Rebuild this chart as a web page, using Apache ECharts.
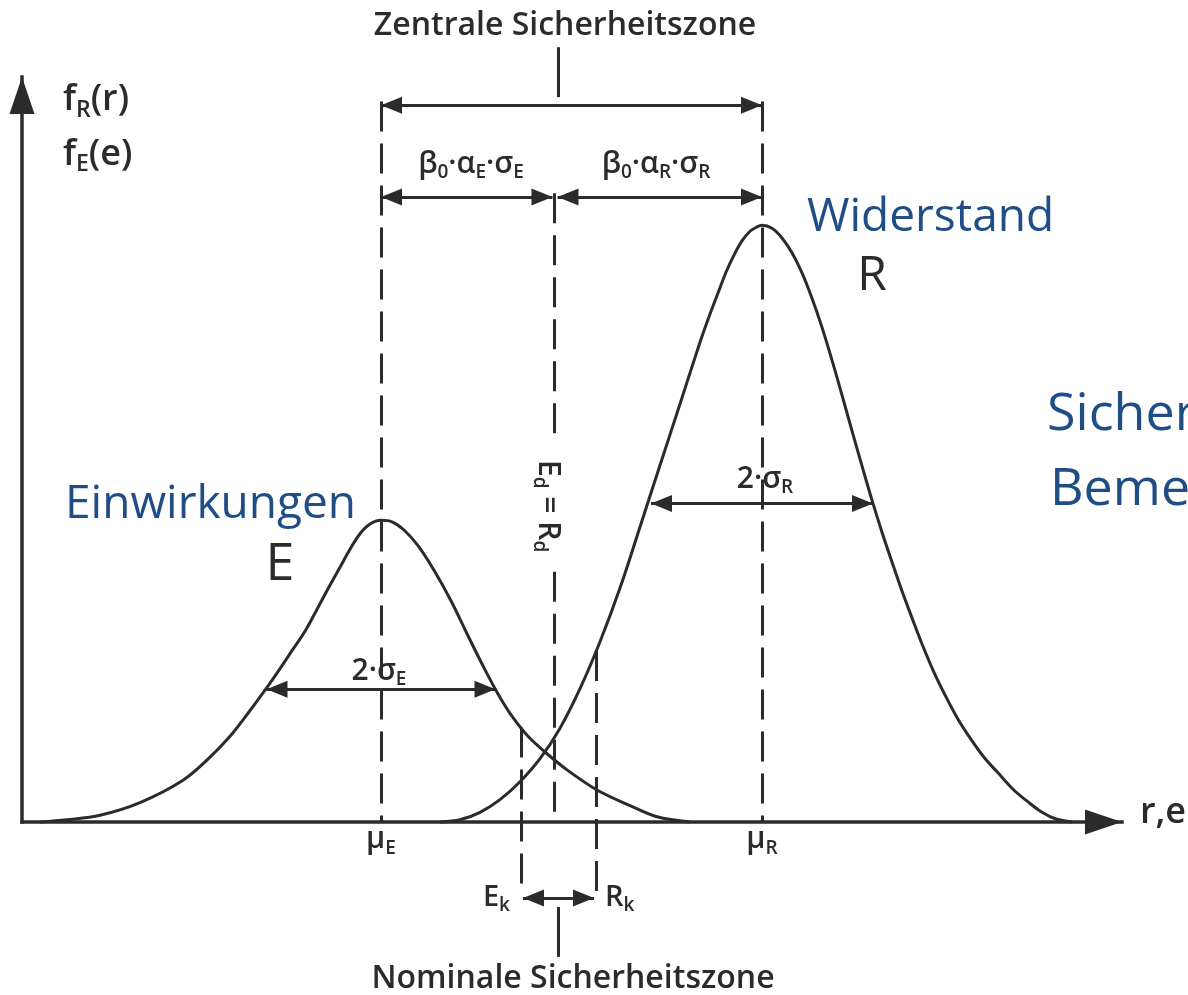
<!DOCTYPE html>
<html>
<head>
<meta charset="utf-8">
<script src="https://cdn.jsdelivr.net/npm/echarts@6/dist/echarts.min.js"></script>
<style>
  html, body { margin: 0; padding: 0; background: #ffffff; }
  #chart { width: 1188px; height: 995px; }
</style>
</head>
<body>
<div id="chart"></div>
<script>
// Density of the action effect E and of the resistance R over r,e
const eCurveX = [1.8, 4.5, 7.8, 11.8, 16.1, 18.8, 20.8, 22.6, 24.3, 25.7, 27.0, 28.3, 29.4, 30.6, 31.8, 32.8, 33.8, 34.8, 35.9,
                 37.0, 38.2, 39.6, 41.2, 42.9, 44.6, 46.2, 47.6, 49.0, 50.6, 52.3, 54.5, 57.5, 60.8, 63.5, 66.8];
const eCurveF = [0, 0.3, 0.9, 2.6, 5.6, 8.7, 11.5, 14.6, 17.7, 20.4, 23.0, 25.6, 28.3, 31.3, 34.2, 36.6, 38.7, 40.0, 40.5,
                 40.3, 39.2, 37.1, 33.8, 29.7, 25.0, 20.7, 17.2, 14.2, 11.5, 9.4, 7.0, 4.3, 2.2, 0.7, 0];
const rCurveX = [41.8, 43.8, 45.8, 47.8, 49.8, 51.8, 53.8, 55.8, 57.8, 59.8, 61.8, 63.8, 65.8, 67.8, 68.8, 69.6, 70.4, 71.2, 72.0,
                 72.8, 73.4, 74.0, 75.0, 76.0, 77.0, 78.0, 79.0, 80.0, 81.0, 82.0, 83.0, 84.0, 85.0, 86.0, 87.0, 88.0, 89.0,
                 90.0, 91.2, 92.4, 93.6, 94.8, 96.2, 97.6, 99.1, 100.6, 102.0, 103.4, 105.0];
const rCurveF = [0, 0.3, 1.3, 3.0, 5.4, 8.5, 12.6, 17.9, 24.2, 31.4, 39.6, 47.9, 56.1, 64.4, 68.2, 71.0, 73.8, 76.1, 78.0,
                 79.3, 79.8, 80.1, 79.7, 78.4, 76.4, 73.7, 70.3, 66.4, 62.0, 57.3, 52.5, 47.8, 43.2, 38.9, 34.9, 31.0, 27.4,
                 23.9, 20.1, 16.8, 13.8, 11.3, 8.7, 6.6, 4.4, 2.7, 1.3, 0.4, 0];

// Characteristic points on the r,e axis: mean of E, mean of R, design point, E_k, R_k
const markerNames = ['muE', 'muR', 'design', 'Ek', 'Rk'];
const markerValues = [35.9, 74.0, 53.2, 49.9, 57.4];
// Standard deviations of E and R
const sigmaNames = ['sigmaE', 'sigmaR'];
const sigmaValues = [11.45, 11.1];

const INK = '#2b2b2b';
const BLUE = '#1F4E86';
const FONT = "'Open Sans', 'Noto Sans', sans-serif";

const chart = echarts.init(document.getElementById('chart'), null, { renderer: 'canvas' });

const toPairs = (xs, fs) => xs.map((x, i) => [x, fs[i]]);
function valueAt(xs, fs, x) {
  for (let i = 1; i < xs.length; i++) {
    if (x <= xs[i]) {
      const t = (x - xs[i - 1]) / (xs[i] - xs[i - 1]);
      return fs[i - 1] + t * (fs[i] - fs[i - 1]);
    }
  }
  return 0;
}

const [muE, muR, design, eK, rK] = markerValues;
const [sigE, sigR] = sigmaValues;
const hE = valueAt(eCurveX, eCurveF, muE + sigE);
const hR = valueAt(rCurveX, rCurveF, muR + sigR);

const DASH = [30, 12];
const AX_HEAD = [25, 37];
const HEAD = [17, 21];

// one straight segment, optional triangle heads whose tip sits on the end point
function seg(a, b, o) {
  o = o || {};
  const ls = { color: INK, width: o.width || 3, type: o.dash || 'solid', cap: o.cap || 'butt' };
  const end = (p, head) => head
    ? { coord: p, symbol: 'triangle', symbolSize: head, symbolOffset: [0, head[1] / 2], lineStyle: ls }
    : { coord: p, symbol: 'none', lineStyle: ls };
  return [end(a, o.from), end(b, o.to)];
}

const guides = [
  // axes
  seg([0, 0], [110, 0], { to: AX_HEAD, width: 3.5, cap: 'square' }),
  seg([0, 0], [0, 100], { to: AX_HEAD, width: 3.5, cap: 'square' }),
  // mean values
  seg([muE, 96.7], [muE, 0], { dash: DASH }),
  seg([muR, 96.7], [muR, 0], { dash: DASH }),
  // design point, interrupted for its label
  seg([design, 84.4], [design, 51.2], { dash: DASH }),
  seg([design, 33.6], [design, 0], { dash: DASH }),
  // characteristic values
  seg([eK, valueAt(eCurveX, eCurveF, eK)], [eK, -8.7], { dash: DASH }),
  seg([rK, valueAt(rCurveX, rCurveF, rK)], [rK, -10.2], { dash: DASH }),
  // safety zones
  seg([muE, 96.2], [muR, 96.2], { from: HEAD, to: HEAD }),
  seg([muE, 83.9], [design - 0.15, 83.9], { from: HEAD, to: HEAD }),
  seg([design + 0.35, 83.9], [muR, 83.9], { from: HEAD, to: HEAD }),
  seg([eK + 0.2, -10.2], [rK - 0.2, -10.2], { from: HEAD, to: HEAD }),
  // 2 sigma widths
  seg([muE - sigE, hE], [muE + sigE, hE], { from: HEAD, to: HEAD }),
  seg([muR - sigR, hR], [muR + sigR, hR], { from: HEAD, to: HEAD }),
  // leader ticks of the zone captions
  seg([53.6, 104.0], [53.6, 97.3], {}),
  seg([53.6, -11.4], [53.6, -18.1], {})
];

const curveStyle = { color: INK, width: 3 };

chart.setOption({
  animation: false,
  backgroundColor: '#ffffff',
  grid: { left: 0, right: 0, top: 0, bottom: 0, containLabel: false },
  xAxis: { type: 'value', min: -2.2, max: 116.6, show: false },
  yAxis: { type: 'value', min: -23.22, max: 110.34, show: false },
  series: [
    {
      name: 'E', type: 'line', data: toPairs(eCurveX, eCurveF), smooth: 0.35,
      symbol: 'none', silent: true, lineStyle: curveStyle, itemStyle: { color: INK }, z: 3,
      markLine: {
        silent: true, animation: false, symbol: ['none', 'none'],
        label: { show: false }, emphasis: { disabled: true },
        data: guides
      }
    },
    {
      name: 'R', type: 'line', data: toPairs(rCurveX, rCurveF), smooth: 0.35,
      symbol: 'none', silent: true, lineStyle: curveStyle, itemStyle: { color: INK }, z: 3
    }
  ]
});

// captions anchored in data coordinates
const labels = [
  { t: 'f{s|R}(r)', at: [4.1, 96.9], size: 36, align: 'left' },
  { t: 'f{s|E}(e)', at: [4.1, 89.6], size: 36, align: 'left' },
  { t: 'Zentrale Sicherheitszone', at: [54.3, 106.8], size: 32 },
  { t: 'β{s|0}·α{s|E}·σ{s|E}', at: [44.9, 88.3], size: 30 },
  { t: 'β{s|0}·α{s|R}·σ{s|R}', at: [63.4, 88.3], size: 30 },
  { t: '2·σ{s|E}', at: [muE - 0.2, 20.2], size: 30 },
  { t: '2·σ{s|R}', at: [muR + 0.3, 46.0], size: 30 },
  { t: 'E', at: [25.8, 34.5], size: 52, weight: 500 },
  { t: 'R', at: [85.0, 73.3], size: 48, weight: 500 },
  { t: 'μ{s|E}', at: [muE, -2.4], size: 30 },
  { t: 'μ{s|R}', at: [muR, -2.4], size: 30 },
  { t: 'E{s|k}', at: [48.8, -10.1], size: 29, align: 'right' },
  { t: 'R{s|k}', at: [58.3, -10.1], size: 29, align: 'left' },
  { t: 'Nominale Sicherheitszone', at: [55.1, -21.1], size: 32 },
  { t: 'E{s|d} = R{s|d}', at: [52.6, 42.4], size: 30, rot: -Math.PI / 2 },
  { t: 'r,e', at: [111.8, 1.2], size: 36, align: 'left' },
  { t: 'Einwirkungen', at: [4.3, 42.6], size: 46, align: 'left', color: BLUE, weight: 'normal' },
  { t: 'Widerstand', at: [78.5, 81.1], size: 46, align: 'left', color: BLUE, weight: 'normal' },
  { t: 'Sicherheit', at: [102.5, 54.6], size: 52, align: 'left', color: BLUE, weight: 'normal' },
  { t: 'Bemessung', at: [102.8, 44.5], size: 52, align: 'left', color: BLUE, weight: 'normal' }
];

const graphic = labels.map(l => {
  const p = chart.convertToPixel({ gridIndex: 0 }, l.at);
  const fill = l.color || INK;
  const weight = l.weight || 600;
  const subSize = Math.round(l.size * 0.64);
  return {
    type: 'text', x: p[0], y: p[1], rotation: l.rot || 0, silent: true, z: 100,
    style: {
      text: l.t, fill: fill, fontFamily: FONT, fontSize: l.size, fontWeight: weight,
      lineHeight: Math.round(l.size * 1.2),
      align: l.align || 'center', verticalAlign: 'middle',
      rich: {
        s: { fill: fill, fontFamily: FONT, fontSize: subSize, fontWeight: weight, lineHeight: subSize, verticalAlign: 'bottom' }
      }
    }
  };
});

chart.setOption({ graphic: graphic });
</script>
</body>
</html>
